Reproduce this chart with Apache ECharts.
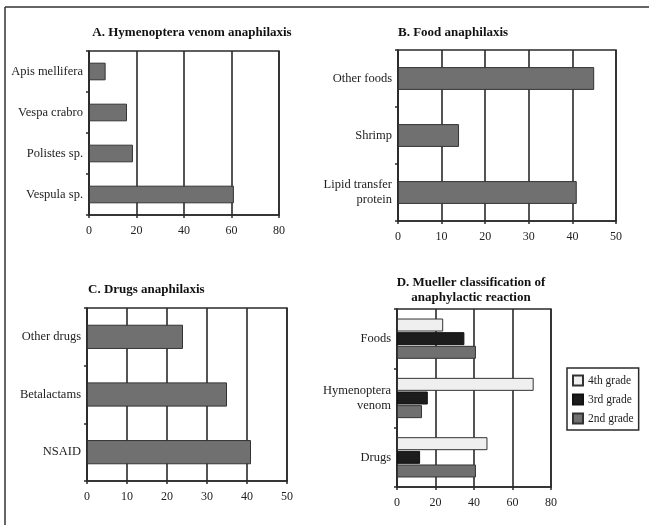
<!DOCTYPE html>
<html><head><meta charset="utf-8">
<script src="https://cdn.jsdelivr.net/npm/echarts@6/dist/echarts.min.js"></script>
<style>html,body{margin:0;padding:0;background:#fff}#c{width:649px;height:525px}</style>
</head><body><div id="c"></div>
<script>
const catA = ['Vespula sp.', 'Polistes sp.', 'Vespa crabro', 'Apis mellifera'];
const valA = [61, 18.5, 16, 7];
const catB = ['Lipid transfer\nprotein', 'Shrimp', 'Other foods'];
const valB = [41, 14, 45];
const catC = ['NSAID', 'Betalactams', 'Other drugs'];
const valC = [41, 35, 24];
const catD = ['Drugs', 'Hymenoptera\nvenom', 'Foods'];
const grade4 = [47, 71, 24];
const grade3 = [12, 16, 35];
const grade2 = [41, 13, 41];
const ticksA = [0, 20, 40, 60, 80];
const ticksB = [0, 10, 20, 30, 40, 50];
const ticksC = [0, 10, 20, 30, 40, 50];
const ticksD = [0, 20, 40, 60, 80];

const FONT = '"Liberation Serif", "DejaVu Serif", serif';
const DARK = '#2a2a2a';
const chart = echarts.init(document.getElementById('c'));

function xAx(i, ticks) {
  return {
    type: 'value', gridIndex: i, min: ticks[0], max: ticks[ticks.length - 1],
    interval: ticks[1] - ticks[0],
    axisLine: { show: true, lineStyle: { color: DARK, width: 1.5 } },
    axisTick: { show: true, length: 3, lineStyle: { color: DARK, width: 1.5 } },
    axisLabel: { color: '#222', fontFamily: FONT, fontSize: 12, margin: 10 },
    splitLine: { show: true, lineStyle: { color: DARK, width: 1.6 } }
  };
}
function yAx(i, cats) {
  return {
    type: 'category', gridIndex: i, data: cats,
    axisLine: { show: true, lineStyle: { color: DARK, width: 1.5 } },
    axisTick: { show: true, length: 3, lineStyle: { color: DARK, width: 1.5 } },
    axisLabel: { color: '#222', fontFamily: FONT, fontSize: 12.5, margin: 6, lineHeight: 15, align: 'right' },
    splitLine: { show: false }
  };
}
const barStyle = { color: '#707070', borderColor: '#333', borderWidth: 1 };
const gridBase = { show: true, borderColor: DARK, borderWidth: 1.5, backgroundColor: 'transparent', containLabel: false };
const titleStyle = { fontFamily: FONT, fontSize: 13, fontWeight: 'bold', color: '#111', lineHeight: 15 };

chart.setOption({
  animation: false,
  backgroundColor: '#fff',
  title: [
    { text: 'A. Hymenoptera venom anaphilaxis', left: 187, top: 20, textAlign: 'center', textStyle: titleStyle },
    { text: 'B. Food anaphilaxis', left: 393, top: 20, textStyle: titleStyle },
    { text: 'C. Drugs anaphilaxis', left: 83, top: 277, textStyle: titleStyle },
    { text: 'D. Mueller classification of\nanaphylactic reaction', left: 466, top: 270, textAlign: 'center', textStyle: titleStyle }
  ],
  grid: [
    Object.assign({ left: 89, top: 51, width: 190, height: 164 }, gridBase),
    Object.assign({ left: 398, top: 50, width: 218, height: 171 }, gridBase),
    Object.assign({ left: 87, top: 308, width: 200, height: 173 }, gridBase),
    Object.assign({ left: 397, top: 309, width: 154, height: 178 }, gridBase)
  ],
  xAxis: [xAx(0, ticksA), xAx(1, ticksB), xAx(2, ticksC), xAx(3, ticksD)],
  yAxis: [yAx(0, catA), yAx(1, catB), yAx(2, catC), yAx(3, catD)],
  legend: {
    orient: 'vertical', left: 567, top: 368,
    data: ['4th grade', '3rd grade', '2nd grade'],
    icon: 'rect', itemWidth: 10, itemHeight: 10, itemGap: 6,
    borderColor: DARK, borderWidth: 1.5, padding: [6, 5, 5, 5],
    textStyle: { fontFamily: FONT, fontSize: 11.5, color: '#222', lineHeight: 13 }
  },
  graphic: [
    { type: 'line', shape: { x1: 5, y1: 7, x2: 649, y2: 7 }, style: { stroke: '#333', lineWidth: 1.5 } },
    { type: 'line', shape: { x1: 5, y1: 7, x2: 5, y2: 525 }, style: { stroke: '#333', lineWidth: 1.5 } }
  ],
  series: [
    { type: 'bar', xAxisIndex: 0, yAxisIndex: 0, data: valA, barCategoryGap: '57%', itemStyle: barStyle },
    { type: 'bar', xAxisIndex: 1, yAxisIndex: 1, data: valB, barCategoryGap: '60%', itemStyle: barStyle },
    { type: 'bar', xAxisIndex: 2, yAxisIndex: 2, data: valC, barCategoryGap: '58%', itemStyle: barStyle },
    { type: 'bar', name: '4th grade', xAxisIndex: 3, yAxisIndex: 3, data: grade4, barWidth: 13, barGap: '5%', itemStyle: { color: '#efefef', borderColor: '#333', borderWidth: 1 } },
    { type: 'bar', name: '3rd grade', xAxisIndex: 3, yAxisIndex: 3, data: grade3, barWidth: 13, barGap: '5%', itemStyle: { color: '#1c1c1c', borderColor: '#111', borderWidth: 1 } },
    { type: 'bar', name: '2nd grade', xAxisIndex: 3, yAxisIndex: 3, data: grade2, barWidth: 13, barGap: '5%', itemStyle: { color: '#707070', borderColor: '#333', borderWidth: 1 } }
  ]
});
</script></body></html>
